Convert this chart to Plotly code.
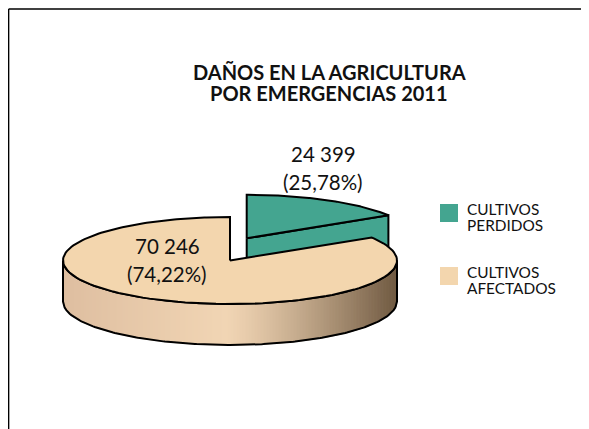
import math
import plotly.graph_objects as go

categories = ["CULTIVOS PERDIDOS", "CULTIVOS AFECTADOS"]
label_lines = [["CULTIVOS", "PERDIDOS"], ["CULTIVOS", "AFECTADOS"]]
values = [24399, 70246]
title_lines = ["DAÑOS EN LA AGRICULTURA", "POR EMERGENCIAS 2011"]

GREEN, PEACH = "#44A590", "#F3D6AE"
INK = "#000000"
W, H = 589, 429
PAGE_MARGIN = 8
RX, RY, DEPTH = 167, 43.5, 41
CX, CY = 230, 260.5
OFFSET = (16.7, -22.2)   # the first slice is pulled out
WARP = 34.8              # foreshortening of the far side of the tilted disc


def warp(deg):
    return deg - WARP * math.sin(math.radians(deg))


def rim(deg, cx=CX, cy=CY):
    t = math.radians(warp(deg))
    return cx + RX * math.sin(t), cy - RY * math.cos(t)


def arc(a, b, cx=CX, cy=CY, n=160):
    pts = [rim(a + (b - a) * i / n, cx, cy) for i in range(n + 1)]
    return [p[0] for p in pts], [p[1] for p in pts]


def lerp(c1, c2, f):
    return "rgb(%d,%d,%d)" % tuple(round(c1[i] + (c2[i] - c1[i]) * f) for i in range(3))


total = sum(values)
sweep = values[0] / total * 360

fig = go.Figure()


def poly(xs, ys, fill, line=INK, width=2):
    fig.add_trace(go.Scatter(
        x=xs, y=ys, mode="lines", fill="toself", fillcolor=fill,
        line=dict(color=line, width=width), hoverinfo="skip", showlegend=False))


# green slice: walls then top
gx, gy = CX + OFFSET[0], CY + OFFSET[1]
ex, ey = rim(sweep, gx, gy)
poly([gx, ex, ex, gx, gx], [gy, ey, ey + DEPTH, gy + DEPTH, gy], GREEN)
ax, ay = arc(0, sweep, gx, gy)
poly([gx] + ax + [gx], [gy] + ay + [gy], GREEN)

# peach side wall, shaded in thin vertical strips
LEFT, MID, RIGHT = (222, 190, 160), (241, 213, 180), (112, 90, 66)
xmin, xmax = CX - RX, CX + RX
STEP = 3


def front_y(x):
    v = max(0.0, 1 - ((x - CX) / RX) ** 2)
    return CY + RY * math.sqrt(v)


x = xmin
while x < xmax:
    x2 = min(x + STEP, xmax)
    xm = (x + x2) / 2
    if xm < 225:
        col = lerp(LEFT, MID, (xm - xmin) / (225 - xmin))
    else:
        col = lerp(MID, RIGHT, ((xm - 225) / (xmax - 225)) ** 1.25)
    xs = [x + (x2 - x) * i / 4 for i in range(5)]
    top = [front_y(v) for v in xs]
    poly(xs + xs[::-1] + [xs[0]], top + [t + DEPTH for t in top[::-1]] + [top[0]], col, col, 1)
    x = x2

# outline of peach wall
n = 200
ox = [xmin + (xmax - xmin) * i / n for i in range(n + 1)]
otop = [front_y(v) for v in ox]
fig.add_trace(go.Scatter(x=ox + ox[::-1] + [ox[0]], y=otop + [t + DEPTH for t in otop[::-1]] + [otop[0]],
                         mode="lines", line=dict(color=INK, width=2), hoverinfo="skip", showlegend=False))

# peach top face
ax, ay = arc(sweep, 360)
poly([CX] + ax + [CX], [CY] + ay + [CY], PEACH)

ann = []


def text(x, y, s, size, bold=False, anchor="center"):
    ann.append(dict(x=x, y=y, xref="x", yref="y", text=f"<b>{s}</b>" if bold else s,
                    showarrow=False, xanchor=anchor, yanchor="middle",
                    font=dict(family="Lato, Carlito, sans-serif", size=size, color="#111111")))


for i, line in enumerate(title_lines):
    text(329, 72 + 21 * i, line, 20, bold=True)


def number(v):
    return f"{v:,}".replace(",", " ")


def pct(v):
    return f"({v / total * 100:.2f}%)".replace(".", ",")


text(323, 154, number(values[0]), 20.5)
text(323, 182, pct(values[0]), 20.5)
text(167, 246, number(values[1]), 20.5)
text(167, 274, pct(values[1]), 20.5)

legend_y = [204, 267]
for top, lines, col in zip(legend_y, label_lines, [GREEN, PEACH]):
    poly([440, 458, 458, 440, 440], [top, top, top + 18, top + 18, top], col, col, 0)
    text(465, top + 5, lines[0], 15.4, anchor="left")
    text(465, top + 21, lines[1], 15.4, anchor="left")

# frame: only the top and left edges fall inside the window
fig.add_trace(go.Scatter(x=[8.6, 8.6], y=[H + PAGE_MARGIN, 9], mode="lines",
                         line=dict(color=INK, width=1.5), hoverinfo="skip", showlegend=False))
fig.add_trace(go.Scatter(x=[8.6, W + PAGE_MARGIN], y=[9, 9], mode="lines",
                         line=dict(color=INK, width=1.5), hoverinfo="skip", showlegend=False))

fig.update_layout(
    width=W, height=H, margin=dict(l=0, r=0, t=0, b=0), showlegend=False,
    paper_bgcolor="white", plot_bgcolor="white", annotations=ann,
    xaxis=dict(range=[PAGE_MARGIN, W + PAGE_MARGIN], visible=False, fixedrange=True),
    yaxis=dict(range=[H + PAGE_MARGIN, PAGE_MARGIN], visible=False, fixedrange=True),
)
fig.write_html("out.html", config=dict(displayModeBar=False))
